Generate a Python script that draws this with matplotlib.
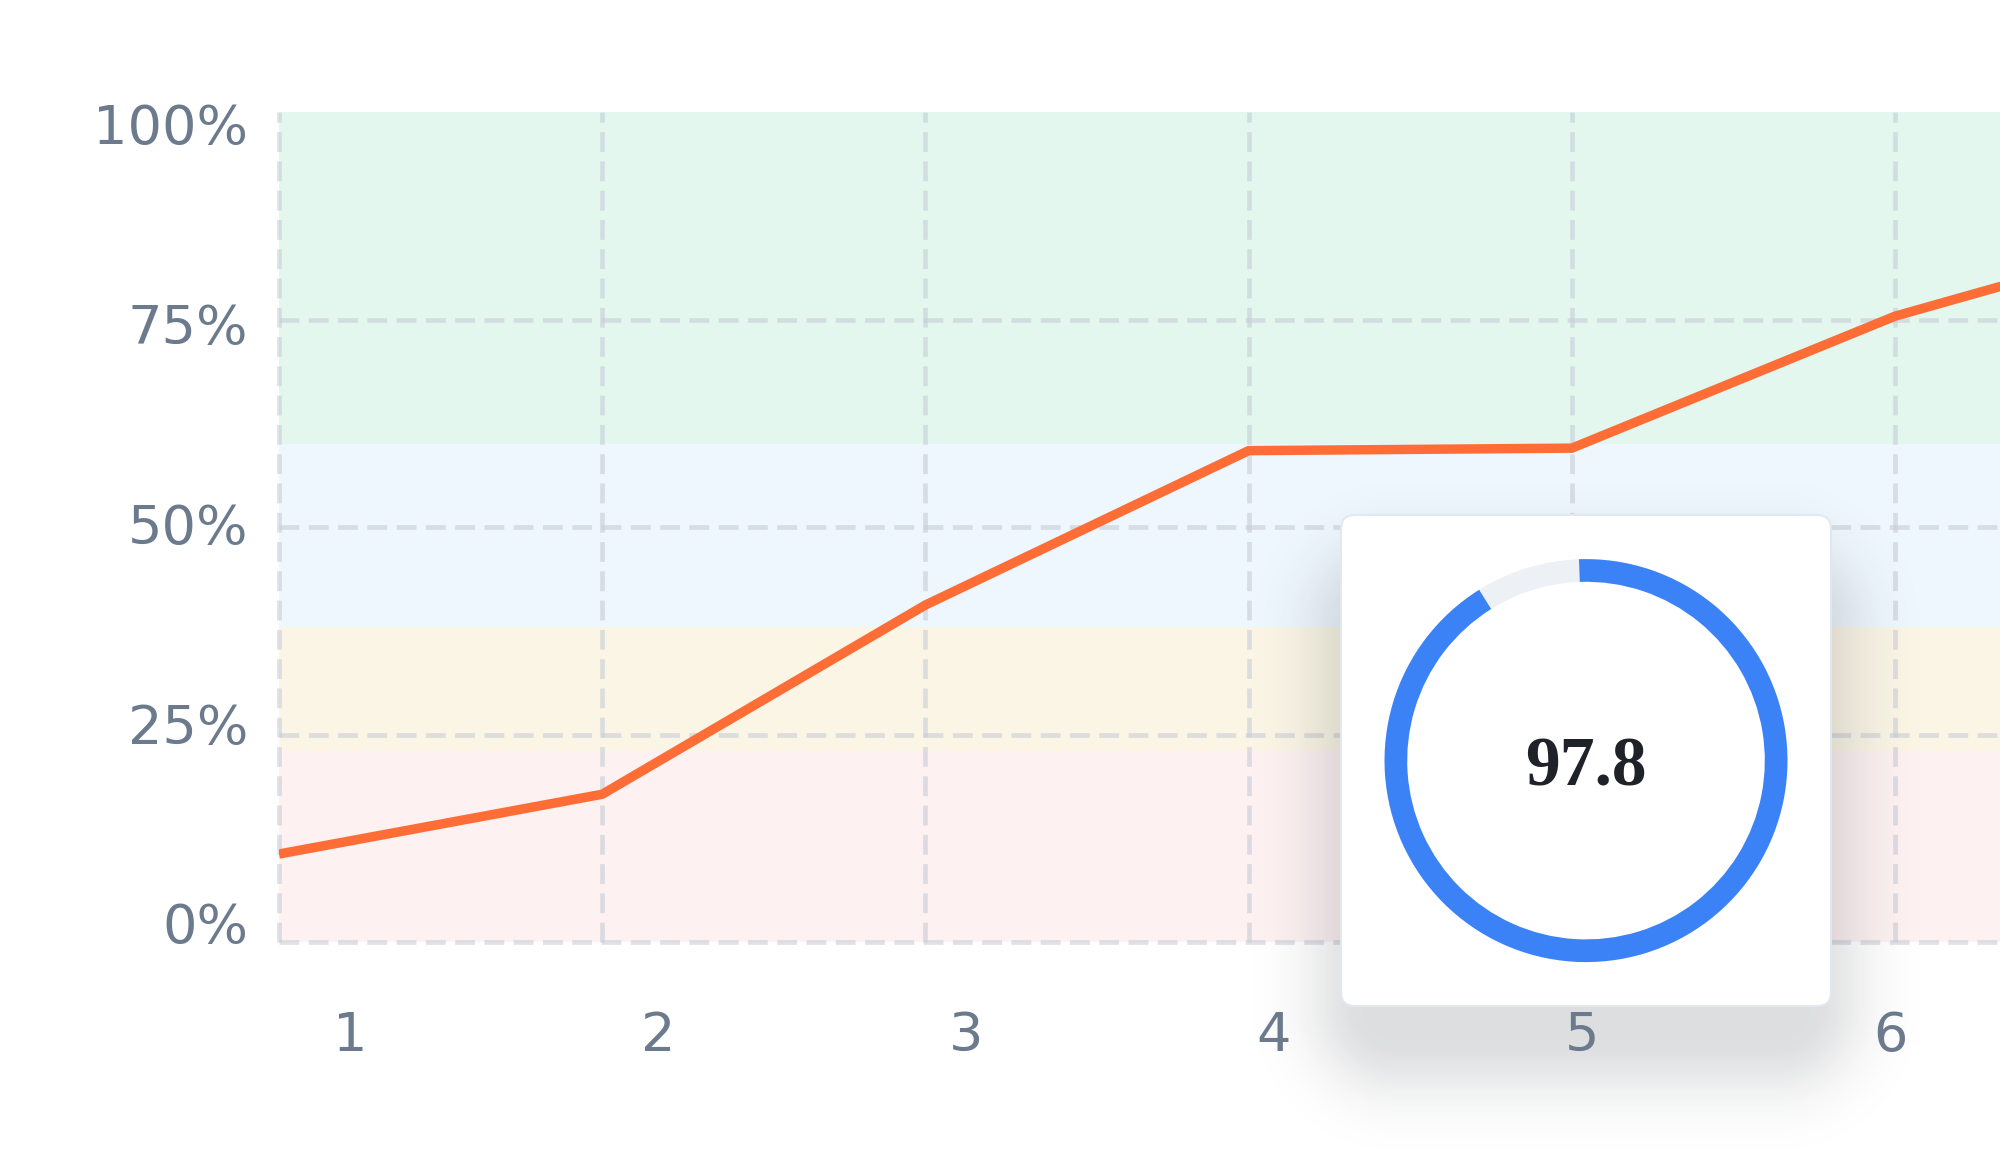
import numpy as np
import matplotlib.pyplot as plt
from matplotlib.patches import FancyBboxPatch, Wedge

# ------------------------------------------------------------------
# Data
steps = [1, 2, 3, 4, 5, 6, 7]
score_pct = [10.6, 17.8, 40.6, 59.2, 59.5, 75.4, 86.4]
x_labels = ['1', '2', '3', '4', '5', '6']
y_ticks = [0, 25, 50, 75, 100]
y_labels = ['0%', '25%', '50%', '75%', '100%']
grid_y = [0, 25, 50, 75]
band_edges = [0, 23, 38, 60, 100]
band_colors = ['#fdf1f1', '#faf5e5', '#eef6fe', '#e3f7ef']
gauge_value = 97.8
gauge_max = 106.7

# ------------------------------------------------------------------
# Layout (pixels, measured from the top left of a 2000x1150 canvas)
W, H = 2000, 1150
plot_left, plot_top, plot_bottom = 279, 112, 942
step_px = 323.2
card_x, card_y, card_w, card_h = 1341, 515, 490, 491
ring_cx, ring_cy, ring_r, ring_w = 1586, 760.6, 201.5, 22.7

tick_color = '#6b7a8c'
grid_color = '#c8cdd7'

fig = plt.figure(figsize=(W / 100, H / 100), dpi=100)
pos = [plot_left / W, (H - plot_bottom) / H, 1 - plot_left / W,
       (plot_bottom - plot_top) / H]

# main plot
ax = fig.add_axes(pos, zorder=0)
ax.set_xlim(1, 1 + (W - plot_left) / step_px)
ax.set_ylim(0, 100)
ax.set_axis_off()

for lo, hi, c in zip(band_edges[:-1], band_edges[1:], band_colors):
    ax.axhspan(lo, hi, color=c, lw=0, zorder=0)

dash = (0, (4.2, 2.0))
for x in steps:
    ax.axvline(x, color=grid_color, alpha=0.6, lw=3.4, ls=dash, zorder=1, clip_on=False)
for y in grid_y:
    ax.axhline(y, color=grid_color, alpha=0.6, lw=3.4, ls=dash, zorder=1, clip_on=False)

ax.plot(steps, score_pct, color='#ff6d37', lw=6.8, zorder=3,
        solid_joinstyle='miter', solid_capstyle='butt')

# ------------------------------------------------------------------
# card with gauge (overlay in pixel units)
ov = fig.add_axes([0, 0, 1, 1], zorder=2)
ov.set_xlim(0, W)
ov.set_ylim(0, H)
ov.set_axis_off()

# soft drop shadow, mostly below the card
yy, xx = np.mgrid[0:H, 0:W] + 0.5
cx = card_x + card_w / 2
cy = card_y + card_h / 2 + 55
r = 30
qx = np.abs(xx - cx) - (card_w / 2 - 25 - r)
qy = np.abs(yy - cy) - (card_h / 2 - 25 - r)
d = np.hypot(np.maximum(qx, 0), np.maximum(qy, 0)) + np.minimum(np.maximum(qx, qy), 0) - r
alpha = 0.15 * np.exp(-0.5 * (np.clip(d, 0, None) / 42) ** 2)
shadow = np.zeros((H, W, 4))
shadow[..., 0] = 0.12
shadow[..., 1] = 0.14
shadow[..., 2] = 0.18
shadow[..., 3] = alpha
ov.imshow(shadow, extent=(0, W, 0, H), origin='upper', aspect='auto',
          interpolation='bilinear', zorder=1)

card = FancyBboxPatch((card_x, H - card_y - card_h), card_w, card_h,
                      boxstyle='round,pad=0,rounding_size=14',
                      fc='white', ec='#e3e8ef', lw=1.5, zorder=2)
ov.add_patch(card)

start = 92
sweep = 360 * gauge_value / gauge_max
center = (ring_cx, H - ring_cy)
ov.add_patch(Wedge(center, ring_r, start, start + 360 - sweep, width=ring_w,
                   fc='#edf1f6', ec='none', zorder=3))
ov.add_patch(Wedge(center, ring_r, start + 360 - sweep, start + 360, width=ring_w,
                   fc='#3b82f6', ec='none', zorder=3))
ov.text(ring_cx, H - 785, f'{gauge_value:.1f}', ha='center', va='baseline',
        fontsize=50, family='Liberation Serif', weight='bold', color='#1f2329', zorder=4)

# ------------------------------------------------------------------
# tick labels (own scale, slightly offset from the grid)
lab = fig.add_axes(pos, zorder=3)
lab.patch.set_visible(False)
for s in lab.spines.values():
    s.set_visible(False)
lab.set_xlim(0.7695, 6.357)
lab.set_ylim(-2.38, 101.5)
lab.set_xticks(range(1, len(x_labels) + 1))
lab.set_xticklabels(x_labels)
lab.set_yticks(y_ticks)
lab.set_yticklabels(y_labels)
lab.tick_params(length=0, labelsize=39, labelcolor=tick_color)
lab.tick_params(axis='x', pad=49)
lab.tick_params(axis='y', pad=22)

fig.savefig('out.png', dpi=100)
